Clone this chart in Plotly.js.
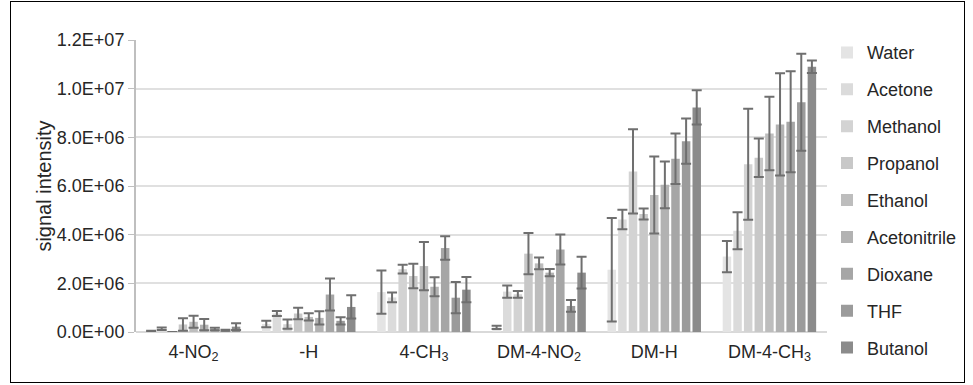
<!DOCTYPE html>
<html>
<head>
<meta charset="utf-8">
<script src="https://cdn.plot.ly/plotly-3.0.1.min.js"></script>
<style>
html,body{margin:0;padding:0;background:#fff;}
#wrap{position:relative;width:973px;height:385px;}
#chart{width:973px;height:385px;}
#frame{position:absolute;left:10px;top:1px;width:955px;height:382px;border:1px solid #000;pointer-events:none;box-sizing:border-box;}
</style>
</head>
<body>
<div id="wrap"><div id="chart"></div><div id="frame"></div></div>
<script>
const categories = ["4-NO<sub>2</sub>", "-H", "4-CH<sub>3</sub>", "DM-4-NO<sub>2</sub>", "DM-H", "DM-4-CH<sub>3</sub>"];
const solvents = ["Water", "Acetone", "Methanol", "Propanol", "Ethanol", "Acetonitrile", "Dioxane", "THF", "Butanol"];

const water        = [0.03e6, 0.33e6, 1.64e6, 0.19e6, 2.56e6, 3.10e6];
const acetone      = [0.13e6, 0.76e6, 1.42e6, 1.66e6, 4.62e6, 4.16e6];
const methanol     = [0.00e6, 0.32e6, 2.58e6, 1.55e6, 6.60e6, 6.89e6];
const propanol     = [0.31e6, 0.76e6, 2.30e6, 3.22e6, 4.85e6, 7.16e6];
const ethanol      = [0.42e6, 0.62e6, 2.71e6, 2.82e6, 5.63e6, 8.16e6];
const acetonitrile = [0.30e6, 0.58e6, 1.86e6, 2.44e6, 6.05e6, 8.53e6];
const dioxane      = [0.12e6, 1.54e6, 3.45e6, 3.39e6, 7.12e6, 8.64e6];
const thf          = [0.07e6, 0.46e6, 1.41e6, 1.07e6, 7.84e6, 9.44e6];
const butanol      = [0.22e6, 1.03e6, 1.74e6, 2.44e6, 9.23e6, 10.9e6];

const waterErr        = [0.02e6, 0.13e6, 0.89e6, 0.07e6, 2.13e6, 0.64e6];
const acetoneErr      = [0.05e6, 0.10e6, 0.20e6, 0.25e6, 0.40e6, 0.76e6];
const methanolErr     = [0.00e6, 0.19e6, 0.18e6, 0.14e6, 1.73e6, 2.28e6];
const propanolErr     = [0.26e6, 0.24e6, 0.50e6, 0.85e6, 0.23e6, 0.79e6];
const ethanolErr      = [0.25e6, 0.15e6, 0.99e6, 0.24e6, 1.58e6, 1.51e6];
const acetonitrileErr = [0.23e6, 0.27e6, 0.39e6, 0.15e6, 0.96e6, 2.10e6];
const dioxaneErr      = [0.05e6, 0.66e6, 0.48e6, 0.62e6, 1.04e6, 2.08e6];
const thfErr          = [0.02e6, 0.15e6, 0.64e6, 0.24e6, 0.93e6, 1.99e6];
const butanolErr      = [0.14e6, 0.48e6, 0.52e6, 0.65e6, 0.70e6, 0.26e6];

const yTickVals = [0, 2e6, 4e6, 6e6, 8e6, 10e6, 12e6];
const yTickText = ["0.0E+00", "2.0E+06", "4.0E+06", "6.0E+06", "8.0E+06", "1.0E+07", "1.2E+07"];

const values = [water, acetone, methanol, propanol, ethanol, acetonitrile, dioxane, thf, butanol];
const errors = [waterErr, acetoneErr, methanolErr, propanolErr, ethanolErr, acetonitrileErr, dioxaneErr, thfErr, butanolErr];
const colors = ["#e4e4e4", "#dbdbdb", "#d3d3d3", "#c8c8c8", "#bdbdbd", "#b2b2b2", "#a6a6a6", "#9b9b9b", "#8b8b8b"];

const traces = solvents.map((name, i) => ({
  type: "bar",
  name: name,
  x: categories,
  y: values[i],
  legendgroup: name,
  marker: {color: colors[i], line: {width: 0}},
  error_y: {type: "data", array: errors[i], visible: true, color: "#6f6f6f", thickness: 2, width: 5}
}));

const font = "Liberation Sans, Arial, sans-serif";
const layout = {
  width: 973, height: 385,
  margin: {l: 136, r: 146, t: 40, b: 53, autoexpand: false},
  paper_bgcolor: "#fff", plot_bgcolor: "#fff",
  barmode: "group",
  bargap: 0.17,
  bargroupgap: 0.2,
  font: {family: font, size: 18, color: "#262626"},
  showlegend: true,
  legend: {
    x: 1.0, xanchor: "left",
    yref: "container", y: 0.48, yanchor: "middle",
    maxheight: 385,
    traceorder: "grouped", tracegroupgap: 10.5,
    font: {family: font, size: 18, color: "#262626"},
    itemclick: false
  },
  xaxis: {
    type: "category",
    showgrid: false, showline: false,
    ticks: "outside", ticklen: 3, tickcolor: "rgba(0,0,0,0)",
    tickfont: {family: font, size: 18, color: "#262626"},
    fixedrange: true
  },
  yaxis: {
    range: [0, 1.2e7],
    tickvals: yTickVals, ticktext: yTickText,
    showgrid: true, gridcolor: "#e0e0e0", gridwidth: 2,
    zeroline: true, zerolinecolor: "#d9d9d9", zerolinewidth: 2,
    showline: true, linecolor: "#bfbfbf", linewidth: 2,
    ticks: "outside", ticklen: 6, tickcolor: "#bfbfbf", tickwidth: 1,
    tickfont: {family: font, size: 18, color: "#262626"},
    title: {text: "signal intensity", font: {family: font, size: 20, color: "#262626"}, standoff: 0},
    fixedrange: true
  }
};

Plotly.newPlot("chart", traces, layout, {displayModeBar: false, staticPlot: true});
</script>
</body>
</html>
